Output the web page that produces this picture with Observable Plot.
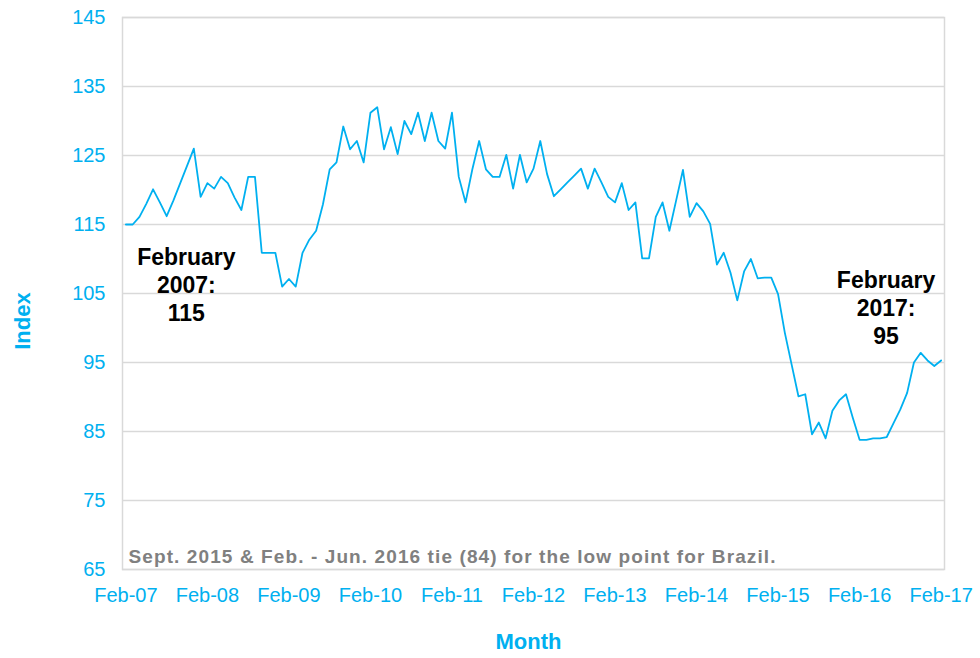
<!DOCTYPE html>
<html>
<head>
<meta charset="utf-8">
<script src="https://cdn.jsdelivr.net/npm/d3@7"></script>
<script src="https://cdn.jsdelivr.net/npm/@observablehq/plot@0.6"></script>
<style>
  html, body { margin: 0; padding: 0; background: #fff; }
  #chart svg { display: block; }
  .note text { letter-spacing: 1.1px; }
</style>
</head>
<body>
<div id="chart"></div>
<script>
// Monthly index, Feb-2007 .. Feb-2017 (121 months)
const months = d3.range(121);
const values = [
  115, 115, 116.1, 118, 120.1, 118.2, 116.2, 118.5, 121, 123.5, 126,          // Feb-07..Dec-07
  119, 121, 120.2, 121.9, 121, 118.9, 117.1, 121.9, 121.9, 110.9, 110.9, 110.9, // Jan-08..Dec-08
  106, 107.1, 106, 110.9, 112.8, 114.1, 117.9, 123, 124, 129.2, 125.9, 127.1,   // 2009
  124, 131.2, 132, 125.9, 129.1, 125.2, 130, 128.1, 131.2, 127.1, 131.2, 127.1, // 2010
  126, 131.2, 121.9, 118.2, 123, 127.1, 123, 121.9, 121.9, 125.1, 120.2, 125.1, // 2011
  121.1, 123.1, 127.1, 122.3, 119.1, 120.1, 121.1, 122.1, 123.1, 120.2, 123.1, 121.1, // 2012
  119, 118.2, 121, 117.1, 118.2, 110.1, 110.1, 116.1, 118.2, 114.1, 118.5, 122.9, // 2013
  116.1, 118.1, 116.9, 115.1, 109.2, 110.9, 108, 104, 108.2, 110, 107.2, 107.3, // 2014
  107.3, 104.9, 99.3, 94.7, 90.1, 90.4, 84.6, 86.3, 84, 88, 89.5, 90.4,          // 2015
  87, 83.8, 83.8, 84, 84, 84.2, 86.2, 88.2, 90.6, 95, 96.4, 95.3,                // 2016
  94.5, 95.3                                                                     // Jan-17, Feb-17
];
const tickMonths = [0, 12, 24, 36, 48, 60, 72, 84, 96, 108, 120];
const tickLabels = ["Feb-07", "Feb-08", "Feb-09", "Feb-10", "Feb-11", "Feb-12", "Feb-13", "Feb-14", "Feb-15", "Feb-16", "Feb-17"];
const yTicks = [65, 75, 85, 95, 105, 115, 125, 135, 145];

const annotations = [
  {m: 8.9, v: 106.4, text: "February\n2007:\n115"},
  {m: 111.9, v: 103.0, text: "February\n2017:\n95"}
];
const note = "Sept. 2015 & Feb. - Jun. 2016 tie (84) for the low point for Brazil.";
const yTitle = "Index";
const xTitle = "Month";

const data = months.map((m, i) => ({m, v: values[i]}));
const labelOf = new Map(tickMonths.map((t, i) => [t, tickLabels[i]]));

const cyan = "#00b0f0";
const gridColor = "#d9d9d9";
const font = "'Liberation Sans', Arial, Helvetica, sans-serif";

const chart = Plot.plot({
  width: 980,
  height: 658,
  marginLeft: 122,
  marginRight: 36,
  marginTop: 17,
  marginBottom: 89,
  style: {fontFamily: font, background: "#fff"},
  x: {domain: [-0.5, 120.5], type: "linear"},
  y: {domain: [65, 145]},
  marks: [
    Plot.gridY(yTicks, {stroke: gridColor, strokeOpacity: 1, strokeWidth: 1.5}),
    Plot.frame({stroke: gridColor, strokeWidth: 1.5}),
    Plot.axisY(yTicks, {tickSize: 0, tickPadding: 17, fill: cyan, fontSize: 20, label: null}),
    Plot.axisX(tickMonths, {tickSize: 0, tickPadding: 18, fill: cyan, fontSize: 20, label: null,
      tickFormat: d => labelOf.get(d)}),
    Plot.lineY(data, {x: "m", y: "v", stroke: cyan, strokeWidth: 1.8}),
    Plot.text(annotations, {x: "m", y: "v", text: "text", fontSize: 23, fontWeight: "bold",
      fill: "#000", lineHeight: 1.22, textAnchor: "middle"}),
    Plot.text([note], {frameAnchor: "bottom-left", dx: 6, dy: -13, fontSize: 19, fontWeight: "bold",
      fill: "#808080", textAnchor: "start", lineAnchor: "middle", className: "note"}),
    Plot.text([yTitle], {x: -0.5, y: 101, dx: -100, rotate: -90, fontSize: 22,
      fontWeight: "bold", fill: cyan}),
    Plot.text([xTitle], {frameAnchor: "bottom", dx: -5, dy: 72, fontSize: 22,
      fontWeight: "bold", fill: cyan, lineAnchor: "middle"})
  ]
});
document.getElementById("chart").appendChild(chart);
</script>
</body>
</html>
